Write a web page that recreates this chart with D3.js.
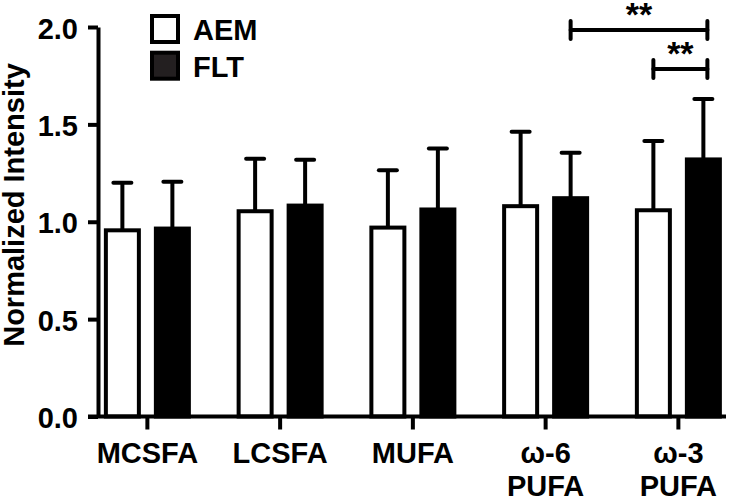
<!DOCTYPE html>
<html>
<head>
<meta charset="utf-8">
<script src="https://cdn.jsdelivr.net/npm/d3@7"></script>
<style>
body{margin:0;background:#fff;}
text{font-family:"Liberation Sans",Arial,sans-serif;font-weight:bold;fill:#000;}
</style>
</head>
<body>
<svg width="731" height="499"></svg>
<script>
// donnees
var categories = ["MCSFA","LCSFA","MUFA","ω-6\nPUFA","ω-3\nPUFA"];
var groups = ["AEM","FLT"];
var aemMean = [0.956, 1.054, 0.970, 1.080, 1.059];
var aemErr  = [0.244, 0.269, 0.295, 0.382, 0.355];
var fltMean = [0.965, 1.083, 1.063, 1.121, 1.320];
var fltErr  = [0.241, 0.235, 0.313, 0.233, 0.310];
var yTicks = [0.0, 0.5, 1.0, 1.5, 2.0];
// comparaisons significatives : [cat1, groupe1, cat2, groupe2, niveau]
var signif = [
  ["ω-6\nPUFA","FLT","ω-3\nPUFA","FLT",30],
  ["ω-3\nPUFA","AEM","ω-3\nPUFA","FLT",69]
];

var svg = d3.select("svg");
var fill = {AEM:"#fff", FLT:"#000"};
var fs = 29;

var data = [];
categories.forEach(function(c,i){
  data.push({cat:c, grp:"AEM", mean:aemMean[i], err:aemErr[i]});
  data.push({cat:c, grp:"FLT", mean:fltMean[i], err:fltErr[i]});
});

// echelles
var x0 = d3.scaleBand().domain(categories).range([81, 744.75]);
var x1 = d3.scaleBand().domain(groups)
  .range([x0.bandwidth()/2 - 43.5, x0.bandwidth()/2 + 43.5])
  .paddingInner(0.26);
var y = d3.scaleLinear().domain([0,2]).range([416.5, 27]);

function cx(c,g){ return x0(c) + x1(g) + x1.bandwidth()/2; }

// barres d'erreur (au-dessus seulement)
var eb = svg.append("g").attr("stroke","#000").attr("stroke-width",4);
eb.selectAll("line.v").data(data).enter().append("line")
  .attr("x1",function(d){return cx(d.cat,d.grp);})
  .attr("x2",function(d){return cx(d.cat,d.grp);})
  .attr("y1",function(d){return y(d.mean);})
  .attr("y2",function(d){return y(d.mean+d.err);});
eb.selectAll("line.c").data(data).enter().append("line")
  .attr("stroke-linecap","round")
  .attr("x1",function(d){return cx(d.cat,d.grp)-9;})
  .attr("x2",function(d){return cx(d.cat,d.grp)+9;})
  .attr("y1",function(d){return y(d.mean+d.err);})
  .attr("y2",function(d){return y(d.mean+d.err);});

// barres
svg.append("g").selectAll("rect").data(data).enter().append("rect")
  .attr("x",function(d){return x0(d.cat)+x1(d.grp)+2;})
  .attr("width",x1.bandwidth()-4)
  .attr("y",function(d){return y(d.mean);})
  .attr("height",function(d){return y(0)-y(d.mean);})
  .attr("fill",function(d){return fill[d.grp];})
  .attr("stroke","#000")
  .attr("stroke-width",4);

// axe Y
var yAxis = svg.append("g").attr("transform","translate(98,0)")
  .call(d3.axisLeft(y).tickValues(yTicks).tickFormat(d3.format(".1f"))
    .tickSize(10).tickSizeOuter(0).tickPadding(10));
yAxis.select(".domain").attr("stroke-width",4);
yAxis.selectAll(".tick line").attr("stroke-width",4);
yAxis.selectAll(".tick text").attr("font-size",fs).attr("dy","0.38em");

// axe X
var xAxis = svg.append("g").attr("transform","translate(0,"+y(0)+")")
  .call(d3.axisBottom(x0).tickSize(13).tickSizeOuter(0).tickFormat(""));
xAxis.select(".domain").remove();
xAxis.append("line").attr("x1",88).attr("x2",726).attr("y1",0).attr("y2",0)
  .attr("stroke","#000").attr("stroke-width",4);
xAxis.selectAll(".tick line").attr("stroke-width",4);
xAxis.selectAll(".tick").append("text")
  .attr("text-anchor","middle").attr("font-size",fs)
  .selectAll("tspan").data(function(d){return d.split("\n");}).enter()
  .append("tspan")
  .attr("x",0)
  .attr("y",function(d,i){return 46.5 + i*33;})
  .text(function(d){return d;});

// titre de l'axe Y
svg.append("text")
  .attr("transform","translate(24,205) rotate(-90)")
  .attr("text-anchor","middle").attr("font-size",fs)
  .text("Normalized Intensity");

// legende
var leg = svg.append("g");
groups.forEach(function(g,i){
  leg.append("rect").attr("x",152).attr("y",16+i*36.7).attr("width",26).attr("height",26)
    .attr("fill", g=="FLT" ? "#231f20" : "#fff")
    .attr("stroke","#000").attr("stroke-width",4);
  leg.append("text").attr("x",193).attr("y",40+i*36.7).attr("font-size",fs).text(g);
});

// crochets de significativite
var sg = svg.append("g").attr("stroke","#000").attr("stroke-width",4).attr("stroke-linecap","round");
signif.forEach(function(s){
  var xa = cx(s[0],s[1]), xb = cx(s[2],s[3]) + 4, yy = s[4];
  sg.append("line").attr("x1",xa).attr("x2",xb).attr("y1",yy).attr("y2",yy);
  sg.append("line").attr("x1",xa).attr("x2",xa).attr("y1",yy-9).attr("y2",yy+9);
  sg.append("line").attr("x1",xb).attr("x2",xb).attr("y1",yy-9).attr("y2",yy+9);
  svg.append("text").attr("x",(xa+xb)/2).attr("y",yy-4)
    .attr("text-anchor","middle").attr("font-size",34).text("**");
});
</script>
</body>
</html>
